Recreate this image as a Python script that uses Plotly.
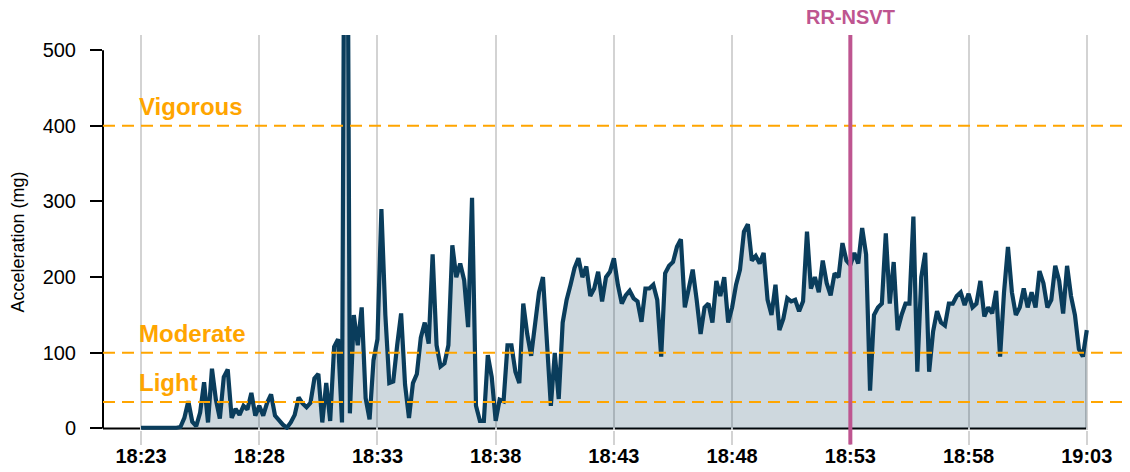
import numpy as np
import pandas as pd
import plotly.graph_objects as go

# ---------------- data ----------------
DAY = "2024-01-01"
START_TIME = "18:23:00"
SAMPLE_SECONDS = 10

# acceleration (mg), one value every 10 s from 18:23:00 to 19:03:00
ACCEL = [
    1, 1, 0, 0, 1, 1, 1, 1, 1, 1,
    2, 14, 36, 9, 3, 21, 61, 8, 79, 38,
    13, 68, 78, 14, 26, 18, 30, 25, 47, 17,
    30, 17, 34, 45, 17, 10, 5, 1, 8, 18,
    41, 33, 28, 34, 66, 72, 8, 60, 10, 108,
    118, 8, 1200, 20, 150, 110, 160, 40, 12, 90,
    118, 290, 150, 60, 62, 110, 152, 58, 14, 60,
    72, 120, 140, 112, 230, 110, 82, 86, 110, 242,
    200, 218, 196, 134, 305, 30, 10, 10, 97, 68,
    10, 38, 36, 110, 110, 75, 60, 165, 125, 96,
    141, 180, 200, 120, 30, 100, 39, 140, 170, 190,
    212, 225, 200, 214, 175, 185, 207, 168, 200, 207,
    225, 190, 165, 176, 182, 172, 168, 141, 185, 185,
    190, 170, 95, 205, 215, 220, 240, 250, 160, 185,
    210, 170, 125, 160, 165, 140, 195, 175, 200, 140,
    160, 190, 210, 260, 270, 222, 228, 218, 232, 170,
    150, 190, 130, 145, 172, 168, 170, 155, 168, 260,
    185, 200, 180, 222, 192, 176, 205, 200, 245, 222,
    216, 232, 218, 265, 230, 50, 150, 160, 165, 258,
    165, 220, 130, 150, 165, 165, 280, 75, 200, 232,
    75, 128, 155, 140, 136, 165, 165, 175, 180, 163,
    178, 160, 165, 195, 148, 160, 152, 182, 95, 180,
    240, 180, 150, 160, 185, 160, 180, 160, 208, 192,
    160, 170, 215, 195, 152, 215, 175, 150, 105, 95,
    130,
]

TICK_LABELS = ["18:23", "18:28", "18:33", "18:38", "18:43",
               "18:48", "18:53", "18:58", "19:03"]
Y_TICKS = [0, 100, 200, 300, 400, 500]

THRESHOLDS = [35, 100, 400]
THRESHOLD_LABELS = ["Light", "Moderate", "Vigorous"]

EVENT_TIME = "18:53"
EVENT_LABEL = "RR-NSVT"

# ---------------- styling ----------------
NAVY = "#0A3D5C"
FILL = "rgba(10,61,92,0.2)"
ORANGE = "#FFA500"
PURPLE = "#BE5590"
GRID = "#D3D3D3"
FONT = "Arial, Liberation Sans, sans-serif"

times = pd.Timestamp(f"{DAY} {START_TIME}") + pd.to_timedelta(
    np.arange(len(ACCEL)) * SAMPLE_SECONDS, unit="s")
tickvals = [f"{DAY} {t}:00" for t in TICK_LABELS]
event_x = f"{DAY} {EVENT_TIME}:00"
x_left = f"{DAY} 18:21:23.5"
x_right = f"{DAY} 19:04:37"

fig = go.Figure()
fig.add_trace(go.Scatter(
    x=times, y=ACCEL, mode="lines",
    line=dict(color=NAVY, width=4.2),
    fill="tozeroy", fillcolor=FILL,
    hoverinfo="skip", showlegend=False,
))

shapes = []
# x axis line (from left edge to last sample) and right edge of the filled area
shapes.append(dict(type="line", xref="x", yref="y", x0=x_left, x1=times[-1],
                   y0=0, y1=0, line=dict(color="black", width=2), layer="below"))
shapes.append(dict(type="line", xref="x", yref="y", x0=times[-1], x1=times[-1],
                   y0=0, y1=ACCEL[-1], line=dict(color="black", width=2), layer="below"))
# y axis line spanning tick range
shapes.append(dict(type="line", xref="paper", yref="y", x0=0, x1=0,
                   y0=Y_TICKS[0], y1=Y_TICKS[-1], line=dict(color="black", width=2)))
# threshold lines
for thr in THRESHOLDS:
    shapes.append(dict(type="line", xref="paper", yref="y", x0=0, x1=1, y0=thr, y1=thr,
                       line=dict(color=ORANGE, width=2, dash="12px,7px"), layer="above"))
# event line
shapes.append(dict(type="line", xref="x", yref="paper", x0=event_x, x1=event_x,
                   y0=-0.037, y1=1, line=dict(color=PURPLE, width=4), layer="above"))

annotations = []
for thr, lab in zip(THRESHOLDS, THRESHOLD_LABELS):
    annotations.append(dict(
        x=tickvals[0], xref="x", y=thr, yref="y", text=f"<b>{lab}</b>",
        showarrow=False, xanchor="left", yanchor="bottom", xshift=-4, yshift=4,
        font=dict(family=FONT, size=24, color=ORANGE)))
annotations.append(dict(
    x=event_x, xref="x", y=1, yref="paper", text=f"<b>{EVENT_LABEL}</b>",
    showarrow=False, xanchor="center", yanchor="bottom", yshift=5,
    font=dict(family=FONT, size=20, color=PURPLE)))
annotations.append(dict(
    x=-0.083, xref="paper", y=0.475, yref="paper", text="Acceleration (mg)",
    showarrow=False, textangle=-90, xanchor="center", yanchor="middle",
    font=dict(family=FONT, size=18, color="black")))

fig.update_layout(
    width=1130, height=472,
    margin=dict(l=103, r=5, t=35, b=42),
    paper_bgcolor="white", plot_bgcolor="white",
    shapes=shapes, annotations=annotations,
    font=dict(family=FONT, color="black"),
    xaxis=dict(
        range=[x_left, x_right],
        tickvals=tickvals, ticktext=TICK_LABELS,
        showgrid=True, gridcolor=GRID, gridwidth=2,
        ticks="outside", ticklen=14, tickwidth=2, tickcolor=GRID,
        tickfont=dict(family=FONT, size=20, color="black", weight="bold"),
        ticklabelstandoff=-6,
        showline=False, zeroline=False,
    ),
    yaxis=dict(
        range=[-2, 520],
        tickvals=Y_TICKS,
        showgrid=False, zeroline=False, showline=False,
        ticks="outside", ticklen=12, tickwidth=2, tickcolor="black",
        tickfont=dict(family=FONT, size=20, color="black"),
        ticklabelstandoff=10,
    ),
)

fig.write_html("out.html", config={"displayModeBar": False},
               post_script="document.body.style.margin='0px';document.body.style.overflow='hidden';")
